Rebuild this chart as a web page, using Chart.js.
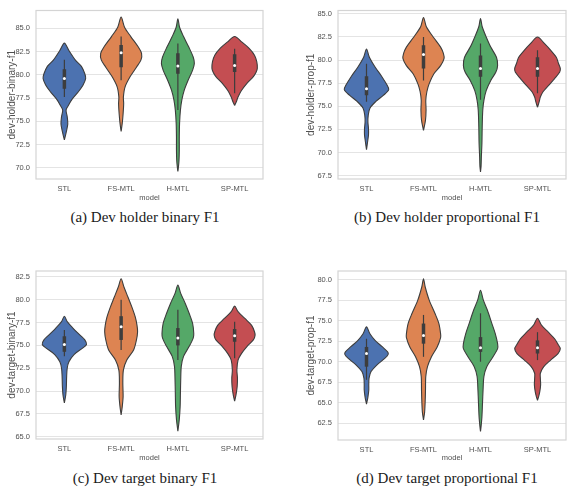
<!DOCTYPE html>
<html>
<head>
<meta charset="utf-8">
<script src="https://cdn.jsdelivr.net/npm/chart.js@4.4.0/dist/chart.umd.min.js"></script>
<style>
  body { margin: 0; background: #fff; width: 574px; height: 491px; position: relative; overflow: hidden; }
  canvas { position: absolute; }
  .cap {
    position: absolute; white-space: nowrap; transform: translateX(-50%);
    font-family: "Liberation Serif", "Times New Roman", serif; font-size: 15px; color: #1a1a1a;
  }
</style>
</head>
<body>
<canvas id="chartA" width="287" height="205" style="left:0;top:0"></canvas>
<canvas id="chartB" width="287" height="205" style="left:287px;top:0"></canvas>
<canvas id="chartC" width="287" height="215" style="left:0;top:250px"></canvas>
<canvas id="chartD" width="287" height="215" style="left:287px;top:250px"></canvas>
<div class="cap" style="left:145px;top:209px">(a) Dev holder binary F1</div>
<div class="cap" style="left:447px;top:209px">(b) Dev holder proportional F1</div>
<div class="cap" style="left:145px;top:470px">(c) Dev target binary F1</div>
<div class="cap" style="left:447px;top:470px">(d) Dev target proportional F1</div>
<script>
// categories and colours (seaborn "deep")
const models = ["STL", "FS-MTL", "H-MTL", "SP-MTL"];
const colors = ["#4c72b0", "#dd8452", "#55a868", "#c44e52"];

// --- (a) dev holder binary f1: violin outline levels (bottom -> top) and half widths
const holderBinaryLevels = [
  [73.0, 73.9, 74.7, 75.5, 76.2, 76.7, 77.4, 78.2, 78.9, 79.6, 80.1, 80.9, 81.6, 82.6, 83.4],
  [73.9, 74.8, 75.8, 76.9, 77.6, 78.7, 79.8, 80.8, 81.6, 82.3, 83.0, 84.1, 85.1, 86.2],
  [69.6, 70.1, 70.8, 71.9, 73.3, 74.8, 76.2, 77.3, 78.3, 79.4, 80.5, 81.2, 81.9, 83.0, 84.1, 85.1, 86.0],
  [76.7, 77.1, 77.6, 78.3, 79.1, 79.8, 80.3, 80.7, 81.4, 82.1, 82.8, 83.5, 84.1]
];
const holderBinaryWidths = [
  [0, 0.035, 0.06, 0.05, 0.03, 0.07, 0.14, 0.25, 0.33, 0.375, 0.36, 0.3, 0.19, 0.08, 0],
  [0, 0.02, 0.035, 0.045, 0.04, 0.07, 0.16, 0.27, 0.35, 0.36, 0.3, 0.17, 0.06, 0],
  [0, 0.01, 0.02, 0.025, 0.025, 0.03, 0.045, 0.07, 0.11, 0.18, 0.26, 0.29, 0.27, 0.19, 0.1, 0.03, 0],
  [0, 0.03, 0.06, 0.12, 0.22, 0.33, 0.38, 0.4, 0.39, 0.35, 0.26, 0.13, 0]
];
// [whisker low, q1, median, q3, whisker high]
const holderBinaryBox = [
  [77.6, 78.5, 79.6, 80.6, 81.6],
  [79.4, 80.8, 82.35, 83.2, 84.1],
  [76.2, 80.1, 80.95, 82.3, 83.35],
  [78.0, 80.3, 81.0, 82.2, 82.8]
];
const holderBinaryTicks = [70, 72.5, 75, 77.5, 80, 82.5, 85];

// --- (b) dev holder prop f1
const holderPropLevels = [
  [70.3, 71.2, 71.9, 72.6, 73.3, 74.0, 74.8, 75.5, 76.2, 76.8, 77.3, 78.2, 79.25, 80.3, 81.2],
  [72.4, 73.5, 74.6, 75.65, 76.6, 77.45, 78.5, 79.4, 80.15, 80.7, 81.4, 82.5, 83.6, 84.6],
  [67.9, 68.5, 69.5, 71.0, 72.8, 74.6, 75.65, 76.7, 77.8, 78.7, 79.4, 80.3, 81.4, 82.5, 83.6, 84.5],
  [74.9, 75.5, 76.0, 76.6, 77.3, 78.0, 78.7, 79.1, 79.6, 80.3, 81.0, 81.8, 82.5]
];
const holderPropWidths = [
  [0, 0.02, 0.035, 0.035, 0.025, 0.03, 0.06, 0.16, 0.3, 0.39, 0.36, 0.27, 0.15, 0.05, 0],
  [0, 0.035, 0.045, 0.04, 0.06, 0.1, 0.18, 0.3, 0.36, 0.35, 0.3, 0.17, 0.05, 0],
  [0, 0.01, 0.015, 0.025, 0.03, 0.04, 0.06, 0.1, 0.18, 0.27, 0.3, 0.28, 0.18, 0.1, 0.03, 0],
  [0, 0.03, 0.05, 0.1, 0.2, 0.3, 0.39, 0.4, 0.37, 0.33, 0.24, 0.12, 0]
];
const holderPropBox = [
  [75.5, 76.2, 76.9, 78.25, 79.6],
  [77.8, 79.1, 80.6, 81.6, 82.5],
  [75.7, 78.2, 79.1, 80.5, 81.8],
  [76.4, 78.2, 79.1, 80.3, 81.05]
];
const holderPropTicks = [67.5, 70, 72.5, 75, 77.5, 80, 82.5, 85];

// --- (c) dev target binary f1
const targetBinaryLevels = [
  [68.7, 69.6, 70.5, 71.6, 72.5, 73.2, 74.0, 74.7, 75.1, 75.6, 76.1, 76.9, 77.6, 78.2],
  [67.4, 68.3, 69.4, 70.9, 72.3, 73.4, 74.5, 75.6, 76.5, 77.2, 78.1, 79.2, 80.3, 81.4, 82.3],
  [65.6, 66.9, 68.3, 69.8, 71.2, 72.7, 73.8, 74.9, 75.8, 76.3, 77.4, 78.5, 79.6, 80.7, 81.6],
  [68.9, 69.6, 70.5, 71.4, 72.3, 73.4, 74.1, 74.9, 75.6, 76.1, 76.5, 77.2, 77.95, 78.7, 79.3]
];
const targetBinaryWidths = [
  [0, 0.025, 0.035, 0.04, 0.05, 0.08, 0.17, 0.32, 0.39, 0.36, 0.28, 0.15, 0.05, 0],
  [0, 0.02, 0.035, 0.03, 0.04, 0.1, 0.22, 0.27, 0.29, 0.28, 0.25, 0.19, 0.12, 0.05, 0],
  [0, 0.025, 0.04, 0.045, 0.05, 0.06, 0.1, 0.2, 0.27, 0.28, 0.26, 0.2, 0.13, 0.05, 0],
  [0, 0.025, 0.045, 0.05, 0.04, 0.06, 0.12, 0.22, 0.33, 0.36, 0.35, 0.3, 0.18, 0.06, 0]
];
const targetBinaryBox = [
  [73.8, 74.3, 75.1, 76.0, 76.7],
  [74.5, 75.6, 77.05, 78.2, 80.0],
  [73.4, 75.0, 75.8, 76.9, 78.9],
  [73.6, 75.4, 76.05, 76.8, 77.6]
];
const targetBinaryTicks = [65, 67.5, 70, 72.5, 75, 77.5, 80, 82.5];

// --- (d) dev target prop f1
const targetPropLevels = [
  [64.85, 65.7, 66.55, 67.2, 68.0, 68.8, 69.6, 70.4, 70.9, 71.2, 71.8, 72.6, 73.4, 74.25],
  [62.9, 63.9, 65.3, 66.55, 68.2, 69.4, 70.6, 71.8, 72.95, 73.4, 74.65, 75.9, 77.5, 79.1, 80.1],
  [61.5, 62.1, 63.3, 64.9, 66.55, 68.2, 69.4, 70.6, 71.6, 72.2, 73.4, 74.65, 76.3, 77.5, 78.7],
  [65.3, 65.75, 66.35, 67.2, 68.0, 68.6, 69.4, 70.2, 71.0, 71.6, 72.0, 72.8, 73.6, 74.45, 75.3]
];
const targetPropWidths = [
  [0, 0.025, 0.04, 0.04, 0.045, 0.08, 0.18, 0.32, 0.38, 0.37, 0.28, 0.15, 0.06, 0],
  [0, 0.02, 0.03, 0.035, 0.04, 0.07, 0.14, 0.24, 0.3, 0.3, 0.27, 0.2, 0.1, 0.03, 0],
  [0, 0.01, 0.025, 0.035, 0.045, 0.06, 0.11, 0.22, 0.3, 0.3, 0.26, 0.2, 0.12, 0.05, 0],
  [0, 0.02, 0.04, 0.055, 0.05, 0.05, 0.11, 0.23, 0.36, 0.4, 0.37, 0.3, 0.19, 0.07, 0]
];
const targetPropBox = [
  [67.8, 69.4, 71.0, 71.8, 72.8],
  [70.6, 72.2, 73.2, 74.65, 75.7],
  [70.0, 71.2, 71.7, 73.0, 75.9],
  [70.2, 71.0, 71.7, 72.6, 73.6]
];
const targetPropTicks = [62.5, 65, 67.5, 70, 72.5, 75, 77.5, 80];

const FONT = "'Liberation Sans', Arial, sans-serif";
const EDGE = "#3d3d3d";
const TEXT = "#505050";

// light grey frame round the plot area, like seaborn's whitegrid
const framePlugin = {
  id: 'frame',
  beforeDatasetsDraw(chart) {
    const { ctx, chartArea: a } = chart;
    ctx.save();
    ctx.strokeStyle = '#d4d4d4';
    ctx.lineWidth = 1.2;
    ctx.strokeRect(a.left, a.top, a.right - a.left, a.bottom - a.top);
    ctx.restore();
  }
};

// outline of one violin: right side going up, left side coming back down
function outline(i, levels, widths) {
  const pts = [];
  for (let k = 0; k < levels.length; k++) pts.push({ x: i + widths[k], y: levels[k] });
  for (let k = levels.length - 2; k >= 0; k--) pts.push({ x: i - widths[k], y: levels[k] });
  return pts;
}

function violinChart(id, levels, widths, boxes, ticks, cfg) {
  const datasets = [];
  models.forEach((m, i) => {
    datasets.push({
      data: outline(i, levels[i], widths[i]), showLine: true, fill: 'shape',
      backgroundColor: colors[i], borderColor: EDGE, borderWidth: 1.1,
      pointRadius: 0, tension: 0.3, order: 3
    });
    datasets.push({
      data: [{ x: i, y: boxes[i][0] }, { x: i, y: boxes[i][4] }], showLine: true,
      borderColor: EDGE, borderWidth: 1.2, pointRadius: 0, order: 2
    });
    datasets.push({
      data: [{ x: i, y: boxes[i][1] }, { x: i, y: boxes[i][3] }], showLine: true,
      borderColor: EDGE, borderWidth: 3.5, borderCapStyle: 'butt', pointRadius: 0, order: 1
    });
    datasets.push({
      data: [{ x: i, y: boxes[i][2] }], pointRadius: 1.5,
      pointBackgroundColor: '#ffffff', pointBorderColor: 'rgba(0,0,0,0)', pointBorderWidth: 0, order: 0
    });
  });

  return new Chart(document.getElementById(id), {
    type: 'scatter',
    data: { datasets },
    options: {
      responsive: false,
      animation: false,
      layout: { padding: { left: 0, right: cfg.padRight, top: cfg.padTop, bottom: 0 } },
      plugins: { legend: { display: false }, tooltip: { enabled: false } },
      scales: {
        x: {
          type: 'linear', min: -0.5, max: 3.5,
          afterFit: s => { s.height = cfg.xHeight; },
          afterBuildTicks: s => { s.ticks = models.map((m, i) => ({ value: i })); },
          ticks: { callback: v => models[v], font: { size: 7.5, family: FONT }, color: TEXT, padding: 5, autoSkip: false, maxRotation: 0 },
          grid: { display: false, drawTicks: false },
          border: { display: false },
          title: { display: true, text: 'model', font: { size: 7.5, family: FONT }, color: TEXT, padding: { top: 0, bottom: 3 } }
        },
        y: {
          type: 'linear', min: cfg.yMin, max: cfg.yMax,
          afterFit: s => { s.width = cfg.yWidth; },
          afterBuildTicks: s => { s.ticks = ticks.map(v => ({ value: v })); },
          ticks: { callback: v => v.toFixed(1), font: { size: 7.5, family: FONT }, color: TEXT, padding: 6 },
          grid: { color: '#e4e4e4', lineWidth: 1, drawTicks: false },
          border: { display: false },
          title: { display: true, text: cfg.yTitle, font: { size: 10, family: FONT }, color: TEXT, padding: { top: cfg.yTitlePad, bottom: 0 } }
        }
      }
    },
    plugins: [framePlugin]
  });
}

violinChart('chartA', holderBinaryLevels, holderBinaryWidths, holderBinaryBox, holderBinaryTicks,
  { yMin: 68.8, yMax: 86.9, yTitle: 'dev-holder-binary-f1', padTop: 10, padRight: 24, yWidth: 36, xHeight: 26, yTitlePad: 6 });
violinChart('chartB', holderPropLevels, holderPropWidths, holderPropBox, holderPropTicks,
  { yMin: 67.14, yMax: 85.36, yTitle: 'dev-holder-prop-f1', padTop: 10, padRight: 8, yWidth: 51, xHeight: 26, yTitlePad: 18 });
violinChart('chartC', targetBinaryLevels, targetBinaryWidths, targetBinaryBox, targetBinaryTicks,
  { yMin: 64.75, yMax: 83.15, yTitle: 'dev-target-binary-f1', padTop: 21, padRight: 24, yWidth: 36, xHeight: 26, yTitlePad: 6 });
violinChart('chartD', targetPropLevels, targetPropWidths, targetPropBox, targetPropTicks,
  { yMin: 60.47, yMax: 81.05, yTitle: 'dev-target-prop-f1', padTop: 21, padRight: 8, yWidth: 51, xHeight: 25, yTitlePad: 18 });
</script>
</body>
</html>
